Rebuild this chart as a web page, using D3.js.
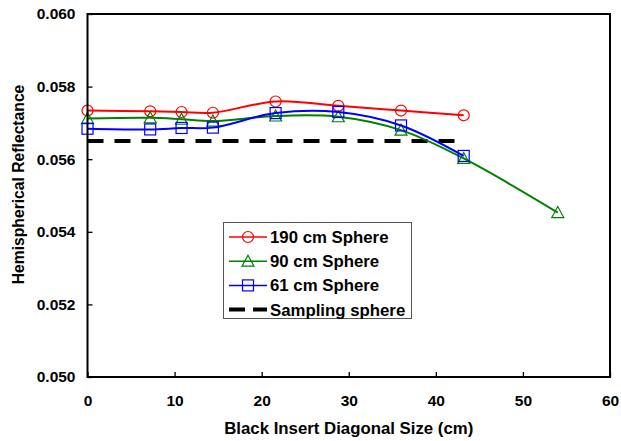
<!DOCTYPE html>
<html>
<head>
<meta charset="utf-8">
<script src="https://cdn.jsdelivr.net/npm/d3@7"></script>
<style>
  body { margin: 0; background: #fff; }
  svg { font-family: "Liberation Sans", Arial, sans-serif; font-weight: bold; }
</style>
</head>
<body>
<div id="chart"></div>
<script>
// data
const insertSize = [0, 7.2, 10.8, 14.4, 21.6, 28.8, 36, 43.2, 54];
const sphere190 = [0.05734, 0.05732, 0.05730, 0.05728, 0.05759, 0.05747, 0.05734, 0.05721];
const sphere90  = [0.05712, 0.05714, 0.05710, 0.05705, 0.05719, 0.05717, 0.05680, 0.05602, 0.05453];
const sphere61  = [0.05684, 0.05682, 0.05686, 0.05687, 0.05727, 0.05730, 0.05693, 0.05609];
const samplingSphere = 0.0565;
const xTicks = [0, 10, 20, 30, 40, 50, 60];
const yTicks = [0.050, 0.052, 0.054, 0.056, 0.058, 0.060];

const width = 621, height = 441;
let margin = ({top: 14, right: 11, bottom: 64, left: 87.5});

const svg = d3.select("#chart")
  .append("svg")
  .attr("width", width)
  .attr("height", height);

let x = d3.scaleLinear()
  .domain([0, 60])
  .range([margin.left, width - margin.right]);

let y = d3.scaleLinear()
  .domain([0.050, 0.060])
  .range([height - margin.bottom, margin.top]);

// axes, ticks point inside
let xAxis = svg.append("g")
  .attr("transform", `translate(0,${height - margin.bottom})`)
  .call(d3.axisBottom(x).tickValues(xTicks).tickSize(-5).tickPadding(18).tickFormat(d3.format("d")));

let yAxis = svg.append("g")
  .attr("transform", `translate(${margin.left},0)`)
  .call(d3.axisLeft(y).tickValues(yTicks).tickSize(-5).tickPadding(12).tickFormat(d3.format(".3f")));

[xAxis, yAxis].forEach(g => {
  g.select(".domain").remove();
  g.selectAll(".tick line").attr("stroke", "#000").attr("stroke-width", 1.3);
  g.selectAll(".tick text")
    .attr("fill", "#000")
    .style("font-size", "15.5px")
    .style("font-weight", "bold")
    .style("font-family", "'Liberation Sans', Arial, sans-serif");
});

svg.append("text")
  .attr("x", (margin.left + width - margin.right) / 2)
  .attr("y", 434)
  .attr("text-anchor", "middle")
  .style("font-size", "16.8px")
  .text("Black Insert Diagonal Size (cm)");

svg.append("text")
  .attr("transform", "translate(24,184.5) rotate(-90)")
  .attr("text-anchor", "middle")
  .style("font-size", "15.7px")
  .text("Hemispherical Reflectance");

// sampling sphere dashed line
svg.append("line")
  .attr("x1", x(0))
  .attr("x2", x(insertSize[7]))
  .attr("y1", y(samplingSphere))
  .attr("y2", y(samplingSphere))
  .attr("stroke", "#000")
  .attr("stroke-width", 4)
  .attr("stroke-dasharray", "16,11");

const series = [
  {name: "190 cm Sphere", values: sphere190, color: "#FF0000", marker: "circle"},
  {name: "90 cm Sphere", values: sphere90, color: "#008000", marker: "triangle"},
  {name: "61 cm Sphere", values: sphere61, color: "#0000FF", marker: "square"}
];

function drawMarker(g, type, cx, cy, color) {
  if (type === "circle") {
    g.append("circle").attr("cx", cx).attr("cy", cy).attr("r", 5.5)
      .attr("fill", "none").attr("stroke", color).attr("stroke-width", 1.2);
  } else if (type === "square") {
    g.append("rect").attr("x", cx - 5.5).attr("y", cy - 5.5).attr("width", 11).attr("height", 11)
      .attr("fill", "none").attr("stroke", color).attr("stroke-width", 1.2);
  } else {
    g.append("path").attr("d", `M${cx},${cy - 6}L${cx + 6},${cy + 5}L${cx - 6},${cy + 5}Z`)
      .attr("fill", "none").attr("stroke", color).attr("stroke-width", 1.2);
  }
}

const line = d3.line()
  .x(d => x(d[0]))
  .y(d => y(d[1]))
  .curve(d3.curveCatmullRom.alpha(0.5));

series.forEach(s => {
  let pts = s.values.map((v, i) => [insertSize[i], v]);
  svg.append("path")
    .attr("d", line(pts))
    .attr("fill", "none")
    .attr("stroke", s.color)
    .attr("stroke-width", 2);
  let g = svg.append("g");
  pts.forEach(p => drawMarker(g, s.marker, x(p[0]), y(p[1]), s.color));
});

// frame
svg.append("rect")
  .attr("x", margin.left)
  .attr("y", margin.top)
  .attr("width", width - margin.right - margin.left)
  .attr("height", height - margin.bottom - margin.top)
  .attr("fill", "none")
  .attr("stroke", "#000")
  .attr("stroke-width", 2);

// legend
let legend = svg.append("g");
legend.append("rect")
  .attr("x", 223.5).attr("y", 222.5)
  .attr("width", 188).attr("height", 96)
  .attr("fill", "#fff")
  .attr("stroke", "#555")
  .attr("stroke-width", 1);

const legendRows = [...series, {name: "Sampling sphere", color: "#000", marker: null}];
legendRows.forEach((s, i) => {
  let ly = 237 + i * 24.2;
  let row = legend.append("g");
  if (s.marker) {
    row.append("line").attr("x1", 229).attr("x2", 267).attr("y1", ly).attr("y2", ly)
      .attr("stroke", s.color).attr("stroke-width", 1.5);
    drawMarker(row, s.marker, 248, ly, s.color);
  } else {
    row.append("line").attr("x1", 229).attr("x2", 267).attr("y1", ly).attr("y2", ly)
      .attr("stroke", "#000").attr("stroke-width", 4).attr("stroke-dasharray", "16,8");
  }
  row.append("text")
    .attr("x", 270)
    .attr("y", ly + 6)
    .style("font-size", "16.8px")
    .text(s.name);
});
</script>
</body>
</html>
